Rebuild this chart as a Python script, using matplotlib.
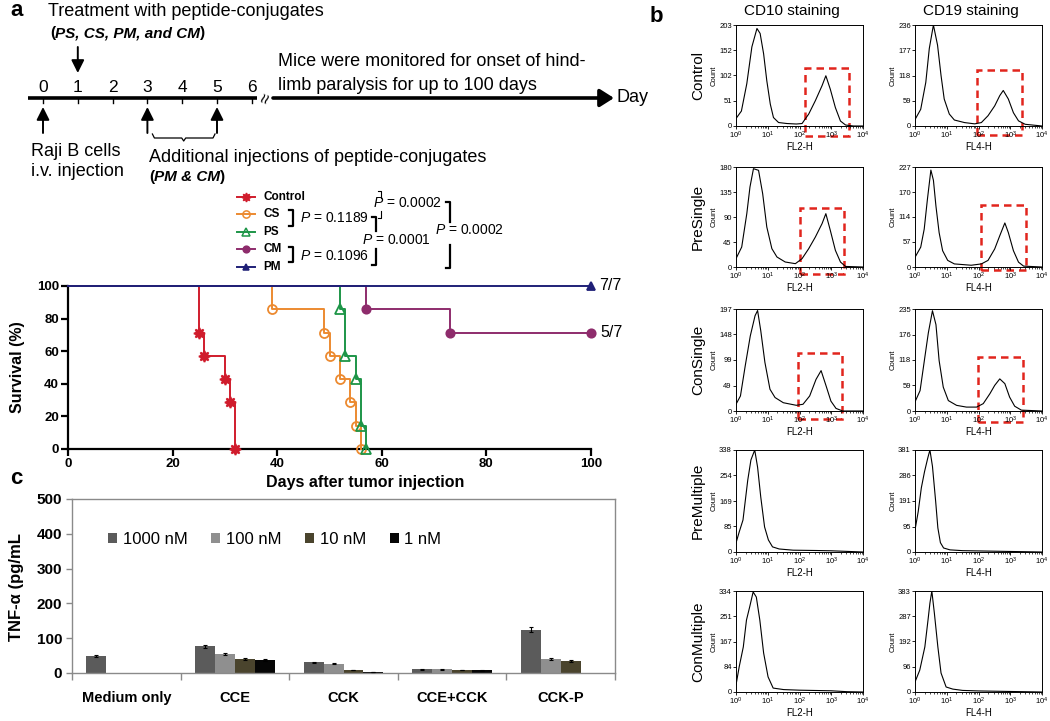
import numpy as np
import matplotlib
matplotlib.use('Agg')
import matplotlib.pyplot as plt
from matplotlib.patches import Rectangle

plt.rcParams['font.family'] = ['Liberation Sans', 'DejaVu Sans']
plt.rcParams['mathtext.fontset'] = 'custom'
plt.rcParams['mathtext.rm'] = 'Liberation Sans'
plt.rcParams['mathtext.it'] = 'Liberation Sans:italic'
plt.rcParams['mathtext.bf'] = 'Liberation Sans:bold'

W, H = 1050, 721

# panel a - treatment timeline (days)
timeline_days = [0, 1, 2, 3, 4, 5, 6]
tumor_days = [0]
treat_days = [1]
extra_days = [3, 5]

# panel a - Kaplan-Meier survival (%)
ctrl_days = [0, 25, 26, 30, 31, 32]
ctrl_surv = [100, 71.4, 57.1, 42.9, 28.6, 0]
cs_days = [0, 39, 49, 50, 52, 54, 55, 56]
cs_surv = [100, 85.7, 71.4, 57.1, 42.9, 28.6, 14.3, 0]
ps_days = [0, 52, 53, 55, 56, 57]
ps_surv = [100, 85.7, 57.1, 42.9, 14.3, 0]
cm_days = [0, 57, 73, 100]
cm_surv = [100, 85.7, 71.4, 71.4]
pm_days = [0, 100]
pm_surv = [100, 100]

# panel c - TNF-alpha (pg/mL)
categories = ['Medium only', 'CCE', 'CCK', 'CCE+CCK', 'CCK-P']
doses = ['1000 nM', '100 nM', '10 nM', '1 nM']
tnf_1000 = [48, 77, 31, 11, 125]
tnf_100 = [0, 55, 27, 11, 39]
tnf_10 = [0, 40, 9, 9, 34]
tnf_1 = [0, 37, 2, 8, 0]
err_1000 = [3, 4, 2, 1, 6]
err_100 = [0, 3, 2, 1, 3]
err_10 = [0, 2, 1, 1, 3]
err_1 = [0, 2, 0, 1, 0]

# panel b - flow histograms (log10 fluorescence, count)
cd10_ctrl_lx = [0, 0.17, 0.34, 0.5, 0.66, 0.76, 0.87, 0.97, 1.08, 1.18, 1.34, 1.6, 1.9, 2.08, 2.29, 2.5, 2.71, 2.83, 2.97, 3.13, 3.29, 3.45, 3.7, 4.0]
cd10_ctrl_n = [15, 30, 85, 159, 196, 186, 145, 91, 44, 17, 7, 5, 4, 5, 24, 51, 81, 101, 74, 37, 10, 2, 0, 0]
cd19_ctrl_lx = [0, 0.18, 0.34, 0.45, 0.58, 0.71, 0.82, 0.92, 1.08, 1.24, 1.56, 1.88, 2.09, 2.3, 2.51, 2.67, 2.78, 2.94, 3.1, 3.26, 3.47, 4.0]
cd19_ctrl_n = [15, 39, 102, 181, 236, 189, 118, 63, 28, 14, 8, 5, 8, 24, 47, 71, 83, 63, 31, 12, 4, 0]
cd10_pres_lx = [0, 0.18, 0.34, 0.44, 0.55, 0.71, 0.84, 0.97, 1.13, 1.29, 1.55, 1.87, 2.08, 2.29, 2.5, 2.71, 2.83, 2.97, 3.13, 3.29, 3.45, 4.0]
cd10_pres_n = [15, 36, 96, 144, 177, 174, 132, 72, 33, 18, 9, 6, 15, 33, 54, 78, 96, 66, 30, 9, 1, 0]
cd19_pres_lx = [0, 0.18, 0.29, 0.39, 0.5, 0.58, 0.66, 0.76, 0.87, 1.03, 1.24, 1.77, 2.09, 2.3, 2.51, 2.67, 2.83, 2.94, 3.1, 3.26, 3.42, 4.0]
cd19_pres_n = [22, 45, 86, 153, 220, 197, 138, 78, 37, 15, 7, 4, 7, 15, 41, 71, 100, 78, 37, 11, 2, 0]
cd10_cons_lx = [0, 0.14, 0.29, 0.45, 0.6, 0.68, 0.78, 0.91, 1.07, 1.23, 1.49, 1.9, 2.11, 2.32, 2.52, 2.68, 2.84, 2.99, 3.15, 3.36, 4.0]
cd10_cons_n = [13, 29, 87, 145, 184, 194, 155, 94, 42, 26, 16, 11, 13, 29, 61, 78, 48, 19, 5, 0, 0]
cd19_cons_lx = [0, 0.16, 0.31, 0.42, 0.55, 0.66, 0.76, 0.89, 1.05, 1.31, 1.62, 1.94, 2.15, 2.36, 2.51, 2.67, 2.83, 2.98, 3.14, 3.35, 4.0]
cd19_cons_n = [21, 47, 124, 180, 231, 199, 116, 55, 24, 13, 9, 9, 17, 40, 59, 74, 63, 32, 11, 2, 0]
cd10_prem_lx = [0, 0.1, 0.22, 0.37, 0.47, 0.59, 0.68, 0.78, 0.9, 1.02, 1.15, 1.36, 1.8, 2.5, 3.0, 3.5, 4.0]
cd10_prem_n = [30, 66, 106, 238, 305, 338, 281, 182, 83, 40, 17, 10, 6, 5, 4, 2, 0]
cd19_prem_lx = [0, 0.1, 0.2, 0.3, 0.4, 0.47, 0.55, 0.65, 0.72, 0.8, 0.9, 1.1, 1.5, 2.0, 2.5, 3.0, 3.5, 4.0]
cd19_prem_n = [82, 150, 240, 300, 350, 381, 320, 190, 90, 35, 15, 8, 5, 4, 3, 2, 1, 0]
cd10_conm_lx = [0, 0.1, 0.23, 0.33, 0.43, 0.54, 0.64, 0.75, 0.87, 1.01, 1.17, 1.5, 2.0, 2.5, 3.0, 3.5, 4.0]
cd10_conm_n = [23, 83, 149, 238, 281, 331, 314, 238, 129, 50, 13, 8, 6, 5, 4, 1, 0]
cd19_conm_lx = [0, 0.15, 0.31, 0.41, 0.47, 0.53, 0.61, 0.72, 0.82, 0.98, 1.19, 1.5, 2.0, 3.0, 4.0]
cd19_conm_n = [38, 83, 171, 273, 337, 383, 299, 171, 72, 19, 11, 6, 4, 2, 0]

row_names = ['Control', 'PreSingle', 'ConSingle', 'PreMultiple', 'ConMultiple']
cd10_ticks = [[0, 51, 102, 152, 203], [0, 45, 90, 135, 180], [0, 49, 99, 148, 197],
              [0, 85, 169, 254, 338], [0, 84, 167, 251, 334]]
cd19_ticks = [[0, 59, 118, 177, 236], [0, 57, 114, 170, 227], [0, 59, 118, 176, 235],
              [0, 95, 191, 286, 381], [0, 96, 192, 287, 383]]
# gates: log10 x from, log10 x to, count from, count to
cd10_gates = [(2.16, 3.56, -20, 116), (2.0, 3.4, -13, 106), (1.94, 3.34, -15, 112), None, None]
cd19_gates = [(1.95, 3.36, -21, 132), (2.08, 3.49, -7, 141), (1.98, 3.40, -25, 125), None, None]


def rect(l, t, r, b):
    return [l / W, 1 - b / H, (r - l) / W, (b - t) / H]


fig = plt.figure(figsize=(W / 100, H / 100), dpi=100)
ov = fig.add_axes([0, 0, 1, 1])
ov.set_xlim(0, W)
ov.set_ylim(H, 0)
ov.axis('off')

# panel letters
ov.text(10, 11, 'a', fontsize=16, fontweight='bold', va='center')
ov.text(650, 16, 'b', fontsize=16, fontweight='bold', va='center')
ov.text(10, 478, 'c', fontsize=16, fontweight='bold', va='center')

# ---------- timeline ----------
def day_px(d):
    return 43 + d * 34.8

ov.plot([28, 257], [98, 98], color='k', lw=2.6, solid_capstyle='butt')
for d in timeline_days:
    ov.plot([day_px(d), day_px(d)], [98, 103], color='k', lw=1)
    ov.text(day_px(d), 87, str(d), fontsize=12.5, ha='center', va='center')
ov.text(267, 99, '\u2248', fontsize=13, rotation=70, ha='center', va='center')
ov.annotate('', xy=(614, 98), xytext=(273, 98),
            arrowprops=dict(arrowstyle='-|>,head_length=0.6,head_width=0.38', color='k',
                            lw=2.6, mutation_scale=14, shrinkA=0, shrinkB=0))
ov.text(617, 98, 'Day', fontsize=13, va='center')

arrow = dict(arrowstyle='-|>,head_length=0.7,head_width=0.35', color='k', lw=1.4,
             mutation_scale=11, shrinkA=0, shrinkB=0)
for d in treat_days:
    ov.annotate('', xy=(day_px(d), 73), xytext=(day_px(d), 47), arrowprops=arrow)
for d in tumor_days + extra_days:
    ov.annotate('', xy=(day_px(d), 107), xytext=(day_px(d), 133), arrowprops=arrow)

# brace under days 3-5
bx0, bx1 = day_px(extra_days[0]) + 5, day_px(extra_days[1]) - 2
bm = (bx0 + bx1) / 2
ov.plot([bx0, bx0 + 2, bm - 2, bm, bm + 2, bx1 - 2, bx1],
        [134, 138, 138, 141, 138, 138, 134], color='k', lw=0.9)


def mixed(x, y, parts, size):
    t = ov.text(x, y, parts[0][0], fontsize=size, fontweight='bold', style=parts[0][1], va='center')
    for s, st in parts[1:]:
        t = ov.annotate(s, xy=(1, 0), xycoords=t, va='bottom', ha='left', fontsize=size,
                        fontweight='bold', style=st)


ov.text(48, 11, 'Treatment with peptide-conjugates', fontsize=13, va='center')
mixed(50, 33, [('(', 'normal'), ('PS, CS, PM, and CM', 'italic'), (')', 'normal')], 11)
ov.text(278, 61, 'Mice were monitored for onset of hind-', fontsize=13, va='center')
ov.text(278, 86, 'limb paralysis for up to 100 days', fontsize=13, va='center')
ov.text(31, 152, 'Raji B cells', fontsize=13, va='center')
ov.text(31, 171, 'i.v. injection', fontsize=13, va='center')
ov.text(149, 157, 'Additional injections of peptide-conjugates', fontsize=13, va='center')
mixed(149, 177, [('(', 'normal'), ('PM & CM', 'italic'), (')', 'normal')], 11)

# ---------- survival ----------
ax = fig.add_axes(rect(68, 286, 591, 449))
series = [
    ('Control', ctrl_days, ctrl_surv, '#d01c2c', (8, 1, 0), 8, '#d01c2c'),
    ('CS', cs_days, cs_surv, '#ec8a30', 'o', 6.5, 'none'),
    ('PS', ps_days, ps_surv, '#1d9547', '^', 6.5, 'none'),
    ('CM', cm_days, cm_surv, '#8e2c6c', 'o', 6, '#8e2c6c'),
    ('PM', pm_days, pm_surv, '#1f2077', '^', 6, '#1f2077'),
]
for name, d, s, c, m, ms, mfc in series:
    ax.step(d, s, where='post', color=c, lw=1.4, clip_on=False)
    ax.plot(d[1:], s[1:], ls='none', marker=m, ms=ms, mfc=mfc, mec=c, mew=1.3, clip_on=False)

ax.set_xlim(0, 100)
ax.set_ylim(0, 100)
ax.set_xticks(np.arange(0, 101, 20))
ax.set_yticks(np.arange(0, 101, 20))
for sp in ['top', 'right']:
    ax.spines[sp].set_visible(False)
for sp in ['left', 'bottom']:
    ax.spines[sp].set_linewidth(1.6)
    ax.spines[sp].set_zorder(1)
ax.tick_params(length=5, width=1.6, labelsize=9.5, pad=1.5)
for lab in ax.get_xticklabels() + ax.get_yticklabels():
    lab.set_fontweight('bold')
ax.set_ylabel('Survival (%)', fontsize=11.5, fontweight='bold')
ax.yaxis.set_label_coords(-0.082, 0.5)
ov.text(365, 483, 'Days after tumor injection', fontsize=11.5, fontweight='bold',
        ha='center', va='center')
ax.annotate('7/7', xy=(100, 100), xytext=(6, 0), textcoords='offset points',
            fontsize=11.5, va='center')
ax.annotate('5/7', xy=(100, 71.4), xytext=(7, 0), textcoords='offset points',
            fontsize=11.5, va='center')

# survival legend
leg_y = [197, 214, 232, 249, 267]
for (name, d, s, c, m, ms, mfc), y in zip(series, leg_y):
    ov.plot([237, 255], [y, y], color=c, lw=1.4)
    ov.plot([246], [y], marker=m, ms=ms * 0.8, mfc=mfc, mec=c, mew=1.1, ls='none')
    ov.text(263, y, name, fontsize=8.5, fontweight='bold', va='center')


def bracket(x, y0, y1, tick=4, top=True, bottom=True):
    xs = [x, x]
    ys = [y0, y1]
    if top:
        xs = [x - tick] + xs
        ys = [y0] + ys
    if bottom:
        xs = xs + [x - tick]
        ys = ys + [y1]
    ov.plot(xs, ys, color='k', lw=1.6)


bracket(293, 210, 226)
ov.text(300, 218, '$P$ = 0.1189', fontsize=10, va='center')
bracket(293, 247, 262)
ov.text(300, 256, '$P$ = 0.1096', fontsize=10, va='center')
bracket(376, 217, 231, bottom=False)
bracket(376, 249, 265, top=False)
ov.text(362, 240, '$P$ = 0.0001', fontsize=10, va='center')
ov.text(373, 203, '$P$ = 0.0002', fontsize=10, va='center')
ov.plot([378, 381, 381], [191, 191, 198], color='k', lw=0.8)
ov.plot([381, 381, 378], [211, 218, 218], color='k', lw=0.8)
bracket(450, 202, 222, bottom=False)
bracket(450, 245, 268, top=False)
ov.text(435, 230, '$P$ = 0.0002', fontsize=10, va='center')

# ---------- bar chart ----------
bx = fig.add_axes(rect(72, 499, 615, 673))
x = np.arange(len(categories))
w = 0.184
bar_vals = [tnf_1000, tnf_100, tnf_10, tnf_1]
bar_errs = [err_1000, err_100, err_10, err_1]
bar_cols = ['#5b5b5b', '#8f8f8f', '#4a442d', '#060606']
for k in range(4):
    xs = x + (k - 1.5) * w
    bx.bar(xs, bar_vals[k], width=w, color=bar_cols[k], label=doses[k], zorder=2)
    v = np.array(bar_vals[k], dtype=float)
    e = np.array(bar_errs[k], dtype=float)
    keep = v > 0
    bx.errorbar(xs[keep], v[keep], yerr=e[keep], fmt='none', ecolor='k',
                elinewidth=0.8, capsize=1.2, capthick=0.8, zorder=3)
bx.set_xlim(-0.5, len(categories) - 0.5)
bx.set_ylim(0, 500)
bx.set_yticks(np.arange(0, 501, 100))
bx.set_xticks(np.arange(-0.5, len(categories), 1.0))
bx.set_xticklabels([])
bx.set_xticks(x, minor=True)
bx.set_xticklabels(categories, minor=True, fontsize=10.5, fontweight='bold')
bx.tick_params(axis='x', which='minor', length=0, pad=13)
bx.tick_params(axis='x', which='major', length=5, color='#8a8a8a', width=1)
bx.tick_params(axis='y', length=4, color='#8a8a8a', width=1, labelsize=11, pad=3)
for lab in bx.get_yticklabels():
    lab.set_fontweight('bold')
for sp in bx.spines.values():
    sp.set_color('#8a8a8a')
    sp.set_linewidth(1)
ov.text(17, 587, 'TNF-\u03b1 (pg/mL', fontsize=12, fontweight='bold', rotation=90,
        ha='center', va='center')
bx.legend(ncol=4, frameon=False, loc='center left', bbox_to_anchor=(108 / W, 1 - 539 / H),
          bbox_transform=fig.transFigure, handlelength=0.55, handleheight=0.55,
          handletextpad=0.35, columnspacing=1.4, borderpad=0, borderaxespad=0, fontsize=12)

# ---------- flow cytometry ----------
row_top = [25, 167, 309, 450, 591]
row_bot = [126, 267, 411, 552, 692]
col_lr = [(736, 863), (915, 1042)]
cd10_data = [(cd10_ctrl_lx, cd10_ctrl_n), (cd10_pres_lx, cd10_pres_n), (cd10_cons_lx, cd10_cons_n),
             (cd10_prem_lx, cd10_prem_n), (cd10_conm_lx, cd10_conm_n)]
cd19_data = [(cd19_ctrl_lx, cd19_ctrl_n), (cd19_pres_lx, cd19_pres_n), (cd19_cons_lx, cd19_cons_n),
             (cd19_prem_lx, cd19_prem_n), (cd19_conm_lx, cd19_conm_n)]

ov.text(792, 11, 'CD10 staining', fontsize=11, ha='center', va='center')
ov.text(971, 11, 'CD19 staining', fontsize=11, ha='center', va='center')

for col, (data, ticks, gates, xl) in enumerate([(cd10_data, cd10_ticks, cd10_gates, 'FL2-H'),
                                                 (cd19_data, cd19_ticks, cd19_gates, 'FL4-H')]):
    l, r = col_lr[col]
    for row in range(5):
        fa = fig.add_axes(rect(l, row_top[row], r, row_bot[row]))
        lx, n = data[row]
        fa.plot(10 ** np.array(lx), n, color='k', lw=0.8)
        fa.set_xscale('log')
        fa.set_xlim(1, 1e4)
        fa.set_ylim(0, ticks[row][-1])
        fa.set_yticks(ticks[row])
        fa.tick_params(labelsize=5.5, length=2, width=0.6, pad=1)
        fa.tick_params(which='minor', length=1.2, width=0.5)
        for sp in fa.spines.values():
            sp.set_linewidth(0.7)
        fa.set_ylabel('Count', fontsize=5.5, labelpad=1)
        fa.set_xlabel(xl, fontsize=7, labelpad=0.5)
        g = gates[row]
        if g is not None:
            fa.add_patch(Rectangle((10 ** g[0], g[2]), 10 ** g[1] - 10 ** g[0], g[3] - g[2],
                                   fill=False, ec='#e1251d', lw=1.8, ls=(0, (3, 2)), clip_on=False))
        if col == 0:
            ov.text(698, (row_top[row] + row_bot[row]) / 2, row_names[row], fontsize=11,
                    rotation=90, ha='center', va='center')

fig.savefig('out.png', dpi=100)
